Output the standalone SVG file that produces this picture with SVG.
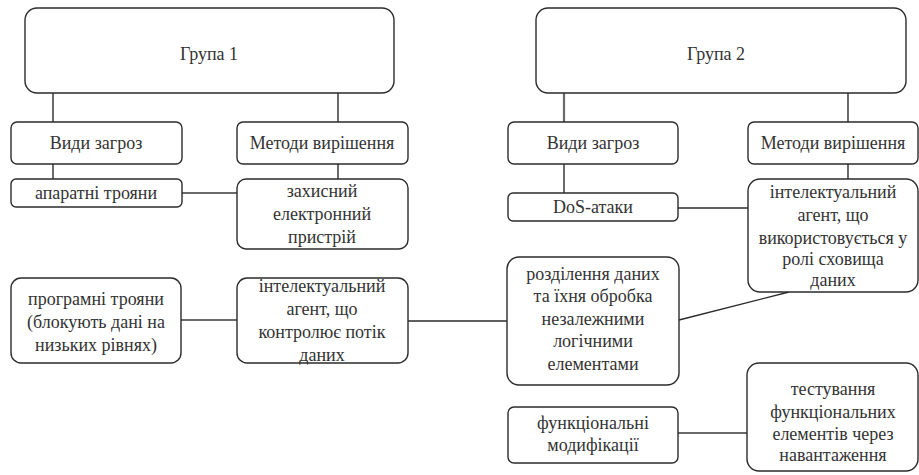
<svg xmlns="http://www.w3.org/2000/svg" width="919" height="475" viewBox="0 0 919 475">
  <style>
    .box { fill: #fff; stroke: #2b2b2b; stroke-width: 1.4; }
    .ln { fill: none; stroke: #2b2b2b; stroke-width: 1.4; }
    .ln2 { fill: none; stroke: #6a6a6a; stroke-width: 2.2; }
    text { font-family: Liberation Serif, Tinos, Noto Serif, DejaVu Serif, FreeSerif, Times New Roman, Times, serif; font-size: 18px; fill: #333; text-anchor: middle; }
  </style>
  <rect width="919" height="475" fill="#fff"/>

  <!-- connectors -->
  <g id="connectors">
    <line class="ln" x1="53" y1="93" x2="53" y2="122"/>
    <line class="ln" x1="338" y1="93" x2="338" y2="122"/>
    <line class="ln" x1="53" y1="164" x2="53" y2="179"/>
    <line class="ln" x1="338" y1="164" x2="338" y2="179"/>
    <line class="ln2" x1="182" y1="193" x2="237" y2="193"/>
    <line class="ln2" x1="181" y1="320" x2="237" y2="320"/>
    <line class="ln" x1="408" y1="321" x2="507" y2="321"/>
    <line class="ln2" x1="564" y1="93" x2="564" y2="122"/>
    <line class="ln" x1="848" y1="93" x2="848" y2="122"/>
    <line class="ln" x1="564" y1="164" x2="564" y2="193"/>
    <line class="ln" x1="848" y1="164" x2="848" y2="179"/>
    <line class="ln" x1="678" y1="208" x2="748" y2="208"/>
    <line class="ln" x1="679" y1="320" x2="789" y2="292"/>
    <line class="ln2" x1="678" y1="433" x2="747" y2="433"/>
  </g>

  <g id="group1">
    <rect class="box" x="25" y="8" width="369" height="85" rx="12"/>
    <text x="209" y="60">Група 1</text>
  </g>
  <g id="threats1">
    <rect class="box" x="11" y="122" width="171" height="42" rx="6"/>
    <text x="96" y="149">Види загроз</text>
  </g>
  <g id="methods1">
    <rect class="box" x="237" y="122" width="171" height="42" rx="6"/>
    <text x="322" y="149">Методи вирішення</text>
  </g>
  <g id="hw-trojans">
    <rect class="box" x="11" y="179" width="171" height="28" rx="5"/>
    <text x="96" y="199">апаратні трояни</text>
  </g>
  <g id="protective-device">
    <rect class="box" x="237" y="179" width="171" height="70" rx="9"/>
    <text x="322" y="197">захисний</text>
    <text x="322" y="220">електронний</text>
    <text x="322" y="243">пристрій</text>
  </g>
  <g id="sw-trojans">
    <rect class="box" x="11" y="278" width="170" height="85" rx="10"/>
    <text x="96" y="305">програмні трояни</text>
    <text x="96" y="328">(блокують дані на</text>
    <text x="96" y="351">низьких рівнях)</text>
  </g>
  <g id="flow-agent">
    <rect class="box" x="237" y="278" width="171" height="85" rx="10"/>
    <text x="322" y="292">інтелектуальний</text>
    <text x="322" y="315">агент, що</text>
    <text x="322" y="338">контролює потік</text>
    <text x="322" y="361">даних</text>
  </g>

  <g id="group2">
    <rect class="box" x="536" y="8" width="370" height="85" rx="12"/>
    <text x="716" y="60">Група 2</text>
  </g>
  <g id="threats2">
    <rect class="box" x="508" y="122" width="170" height="42" rx="6"/>
    <text x="593" y="149">Види загроз</text>
  </g>
  <g id="methods2">
    <rect class="box" x="748" y="122" width="170" height="42" rx="6"/>
    <text x="833" y="149">Методи вирішення</text>
  </g>
  <g id="dos">
    <rect class="box" x="508" y="193" width="170" height="28" rx="5"/>
    <text x="593" y="213">DoS-атаки</text>
  </g>
  <g id="storage-agent">
    <rect class="box" x="748" y="179" width="170" height="113" rx="12"/>
    <text x="833" y="198">інтелектуальний</text>
    <text x="833" y="221">агент, що</text>
    <text x="833" y="244">використовується у</text>
    <text x="833" y="265">ролі сховища</text>
    <text x="833" y="286">даних</text>
  </g>
  <g id="data-split">
    <rect class="box" x="507" y="257" width="172" height="128" rx="12"/>
    <text x="593" y="280">розділення даних</text>
    <text x="593" y="302">та їхня обробка</text>
    <text x="593" y="325">незалежними</text>
    <text x="593" y="347">логічними</text>
    <text x="593" y="370">елементами</text>
  </g>
  <g id="func-mod">
    <rect class="box" x="508" y="407" width="170" height="56" rx="6"/>
    <text x="593" y="429">функціональні</text>
    <text x="593" y="451">модифікації</text>
  </g>
  <g id="load-test">
    <rect class="box" x="747" y="363" width="171" height="108" rx="12"/>
    <text x="833" y="395">тестування</text>
    <text x="833" y="418">функціональних</text>
    <text x="833" y="440">елементів через</text>
    <text x="833" y="461">навантаження</text>
  </g>
</svg>
